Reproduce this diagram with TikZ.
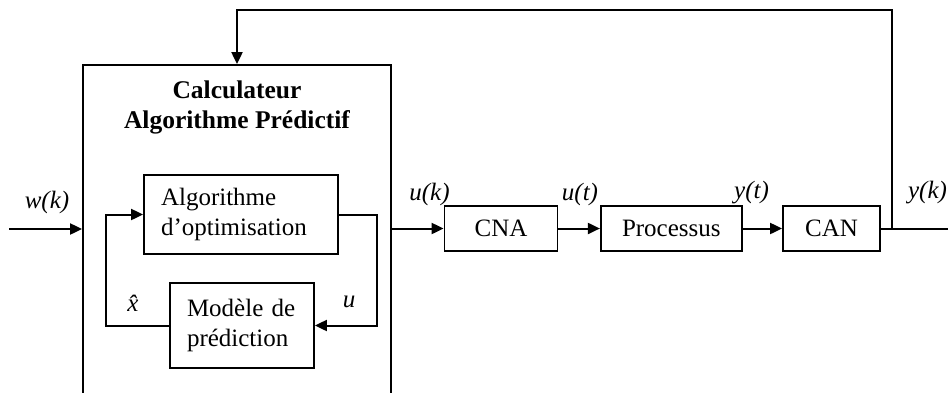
\documentclass[tikz,border=0pt]{standalone}
\usepackage{fontspec}
\setmainfont{Liberation Serif}
\usetikzlibrary{arrows.meta}
\begin{document}
\begin{tikzpicture}[x=1pt,y=-1pt,
 box/.style={draw,line width=1.8pt,inner sep=0pt,font=\fontsize{25}{30}\selectfont},
 conn/.style={line width=2pt},
 arr/.style={conn,-{Triangle[length=12pt,width=11pt]}},
 lab/.style={font=\fontsize{25}{30}\selectfont\itshape,inner sep=0pt}]
\clip (0,0) rectangle (948,392);
\node[box,minimum width=308pt,minimum height=355pt] (calc) at (237,242.5) {};
\node[font=\fontsize{25.5}{30}\selectfont\bfseries,align=center,inner sep=0pt] (title) at (237,107) {Calculateur\\Algorithme Prédictif};
\node[box,minimum width=194pt,minimum height=79pt,text width=160pt,align=left,inner xsep=17pt] (opt) at (241,214.5) {Algorithme\\d’optimisation};
\node[box,minimum width=144pt,minimum height=85pt,text width=110pt,align=left,inner xsep=17pt] (mod) at (242,325.5) {Modèle de\\prédiction};
\node[box,minimum width=113pt,minimum height=45pt] (cna) at (501,228.5) {CNA};
\node[box,minimum width=141pt,minimum height=45pt] (proc) at (671.3,228.5) {Processus};
\node[box,minimum width=97pt,minimum height=45pt] (can) at (831.5,228.5) {CAN};
\coordinate (win) at (9,229);
\coordinate (yout) at (948,228.5);
\coordinate (fbtop) at (892,10);
\coordinate (lr) at (377,0);
\coordinate (ll) at (106,0);
\draw[arr] (win) -- (win -| calc.west);
\draw[arr] (opt.east) -- (opt.east -| lr) |- (mod.east);
\draw[arr] (mod.west) -- (mod.west -| ll) |- (opt.west);
\draw[arr] (calc.east |- cna.west) -- (cna.west);
\draw[arr] (cna.east) -- (proc.west);
\draw[arr] (proc.east) -- (can.west);
\draw[conn] (can.east) -- (yout);
\draw[arr] (can.east -| fbtop) -- (fbtop) -| (calc.north);
\node[lab] (lw) at (47,202.5) {w(k)};
\node[lab] (luk) at (429.5,194) {u(k)};
\node[lab] (lut) at (580,194) {u(t)};
\node[lab] (lyt) at (751.5,193) {y(t)};
\node[lab] (lyk) at (927.5,193) {y(k)};
\node[lab] (lxh) at (133,303) {\^x};
\node[lab] (lu) at (349,302) {u};
\end{tikzpicture}
\end{document}
